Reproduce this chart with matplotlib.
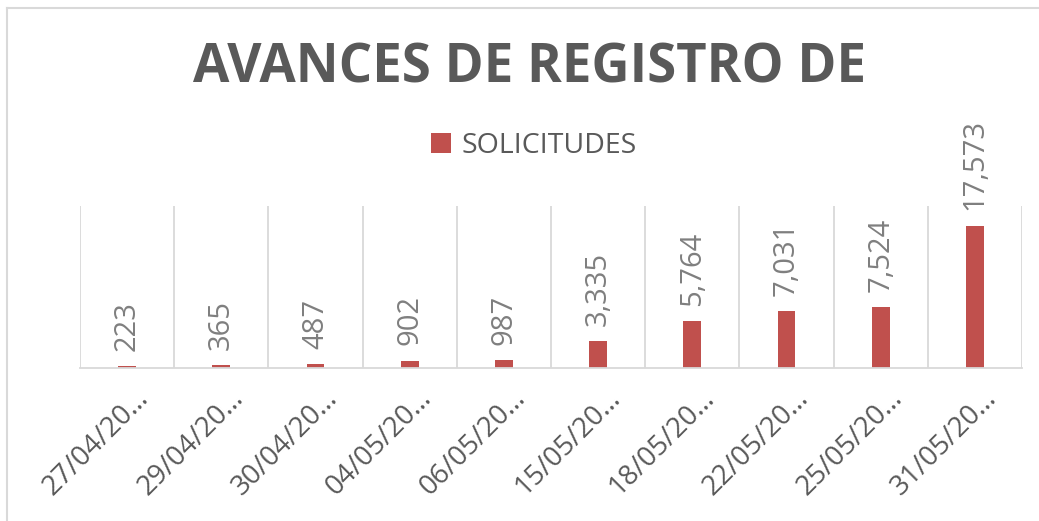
import matplotlib.pyplot as plt
import matplotlib.transforms as mtransforms
from matplotlib.lines import Line2D
import numpy as np

fechas = ["27/04/20…", "29/04/20…", "30/04/20…", "04/05/20…", "06/05/20…",
          "15/05/20…", "18/05/20…", "22/05/20…", "25/05/20…", "31/05/20…"]
solicitudes = [223, 365, 487, 902, 987, 3335, 5764, 7031, 7524, 17573]

rojo = "#C0504D"
gris_txt = "#595959"
gris_lbl = "#7F7F7F"
gris_lin = "#D9D9D9"

plt.rcParams['font.family'] = ['Open Sans', 'DejaVu Sans']

fig = plt.figure(figsize=(10.39, 5.21), dpi=100)
ax = fig.add_axes([0.077, 0.2937, 0.9066, 0.3109])

x = np.arange(len(fechas))
bars = ax.bar(x, solicitudes, width=0.19, color=rojo, label="SOLICITUDES")

ax.set_xlim(-0.5, len(fechas) - 0.5)
ax.set_ylim(0, 20000)
ax.set_yticks([])

# separadores verticales entre categorias
for b in np.arange(-0.5, len(fechas), 1.0):
    ax.axvline(b, color=gris_lin, lw=1.3, zorder=0)

for s in ["top", "right", "left"]:
    ax.spines[s].set_visible(False)
ax.spines["bottom"].set_color(gris_lin)
ax.spines["bottom"].set_linewidth(1.3)

ax.set_xticks(x)
ax.set_xticklabels(fechas, rotation=45, ha="right", rotation_mode="anchor",
                   fontsize=20, color=gris_txt)
ax.tick_params(axis="x", length=0, pad=12)
desp = mtransforms.ScaledTranslation(8 / 100, 0, fig.dpi_scale_trans)
for lbl in ax.get_xticklabels():
    lbl.set_transform(lbl.get_transform() + desp)

for xi, v in zip(x, solicitudes):
    ax.annotate(f"{v:,}", (xi, v), xytext=(0, 11), textcoords="offset points",
                rotation=90, ha="center", va="bottom", fontsize=21,
                color=gris_lbl)

fig.text(0.51, 0.868, "AVANCES DE REGISTRO DE", ha="center", va="center",
         fontsize=38, fontweight="bold", color=gris_txt)

fig.legend(handles=[bars], labels=["SOLICITUDES"], loc="center",
           bbox_to_anchor=(0.514, 0.72), frameon=False, fontsize=20.5,
           labelcolor=gris_txt, handlelength=0.7, handleheight=0.7,
           handletextpad=0.35)

# borde del grafico (izquierda y arriba)
fig.add_artist(Line2D([0.0067, 0.0067], [0, 0.985], transform=fig.transFigure,
                      color=gris_lin, lw=1.5))
fig.add_artist(Line2D([0.0067, 1], [0.985, 0.985], transform=fig.transFigure,
                      color=gris_lin, lw=1.5))

fig.savefig("out.png", dpi=100)
